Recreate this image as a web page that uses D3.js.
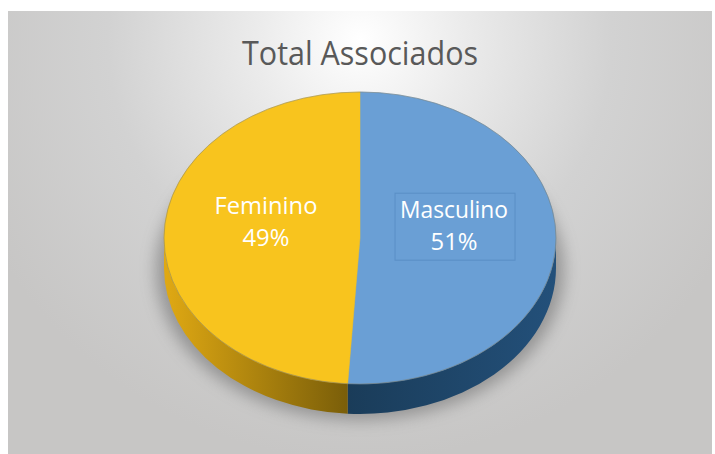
<!DOCTYPE html>
<html>
<head>
<meta charset="utf-8">
<script src="https://cdn.jsdelivr.net/npm/d3@7"></script>
<style>
  body { margin: 0; background: #ffffff; }
  svg { display: block; }
</style>
</head>
<body>
<svg width="715" height="454"></svg>
<script>
/* global d3 */

var categories = [ "Masculino", "Feminino" ];
var values = [ 51, 49 ];
var topColors = [ "#6a9fd5", "#f8c41e" ];
var sideColors = [ [ "#1a3c59", "#23507a" ], [ "#e0a913", "#7a5e09" ] ];

var title = "Total Associados";

var width = 715,
  height = 454;

var cx = 360,
  cy = 238,
  rx = 196,
  ry = 146,
  depth = 30;

var svg = d3.select( "svg" );
var defs = svg.append( "defs" );

// background
var bg = defs.append( "radialGradient" )
  .attr( "id", "bg" )
  .attr( "gradientUnits", "userSpaceOnUse" )
  .attr( "cx", 360 ).attr( "cy", 40 ).attr( "r", 420 );
bg.append( "stop" ).attr( "offset", 0 ).attr( "stop-color", "#ffffff" );
bg.append( "stop" ).attr( "offset", 0.25 ).attr( "stop-color", "#ebebeb" );
bg.append( "stop" ).attr( "offset", 0.6 ).attr( "stop-color", "#d2d2d2" );
bg.append( "stop" ).attr( "offset", 1 ).attr( "stop-color", "#c7c6c5" );

svg.append( "rect" )
  .attr( "x", 8 ).attr( "y", 11 )
  .attr( "width", 704 ).attr( "height", height - 11 )
  .attr( "fill", "url(#bg)" );

// shadow
defs.append( "filter" )
  .attr( "id", "blur" )
  .attr( "x", "-30%" ).attr( "y", "-30%" )
  .attr( "width", "160%" ).attr( "height", "160%" )
  .append( "feGaussianBlur" ).attr( "stdDeviation", 8 );

svg.append( "ellipse" )
  .attr( "cx", cx ).attr( "cy", cy + depth + 2 )
  .attr( "rx", rx + 8 ).attr( "ry", ry + 4 )
  .attr( "fill", "#666666" )
  .attr( "opacity", 0.55 )
  .attr( "filter", "url(#blur)" );

// title
svg.append( "text" )
  .attr( "x", 360 ).attr( "y", 65 )
  .attr( "text-anchor", "middle" )
  .attr( "font-family", "Open Sans, sans-serif" )
  .attr( "font-size", 32 )
  .attr( "textLength", 236 )
  .attr( "lengthAdjust", "spacingAndGlyphs" )
  .attr( "fill", "#595959" )
  .text( title );

var pie = d3.pie().sort( null ).value( d => d );
var arcs = pie( values );

function pt( a, dy ) {
  return [ cx + rx * Math.sin( a ), cy - ry * Math.cos( a ) + ( dy || 0 ) ];
}

function topPath( d ) {
  var p0 = pt( d.startAngle ), p1 = pt( d.endAngle );
  var large = ( d.endAngle - d.startAngle ) > Math.PI ? 1 : 0;
  return "M" + cx + "," + cy + "L" + p0 + "A" + rx + "," + ry + " 0 " + large + " 1 " + p1 + "Z";
}

function wallPath( b0, b1 ) {
  var p0 = pt( b0 ), p1 = pt( b1 ), q0 = pt( b0, depth ), q1 = pt( b1, depth );
  return "M" + p0 + "A" + rx + "," + ry + " 0 0 1 " + p1 +
    "L" + q1 + "A" + rx + "," + ry + " 0 0 0 " + q0 + "Z";
}

// side walls (front half only)
arcs.forEach( ( d, i ) => {
  var b0 = Math.max( d.startAngle, Math.PI / 2 ),
    b1 = Math.min( d.endAngle, 3 * Math.PI / 2 );
  if( b1 <= b0 ) return;

  var x0 = pt( b0 )[ 0 ], x1 = pt( b1 )[ 0 ];
  var g = defs.append( "linearGradient" )
    .attr( "id", "side" + i )
    .attr( "gradientUnits", "userSpaceOnUse" )
    .attr( "x1", Math.min( x0, x1 ) ).attr( "x2", Math.max( x0, x1 ) )
    .attr( "y1", 0 ).attr( "y2", 0 );
  g.append( "stop" ).attr( "offset", 0 ).attr( "stop-color", sideColors[ i ][ 0 ] );
  g.append( "stop" ).attr( "offset", 1 ).attr( "stop-color", sideColors[ i ][ 1 ] );

  svg.append( "path" )
    .attr( "d", wallPath( b0, b1 ) )
    .attr( "fill", "url(#side" + i + ")" );
} );

// top faces
svg.selectAll( "path.top" )
  .data( arcs )
  .enter().append( "path" )
    .attr( "class", "top" )
    .attr( "d", topPath )
    .attr( "fill", ( d, i ) => topColors[ i ] )
    .attr( "stroke", ( d, i ) => topColors[ i ] )
    .attr( "stroke-width", 0.5 );

svg.append( "ellipse" )
  .attr( "cx", cx ).attr( "cy", cy )
  .attr( "rx", rx ).attr( "ry", ry )
  .attr( "fill", "none" )
  .attr( "stroke", "#7a7a6a" )
  .attr( "stroke-opacity", 0.6 )
  .attr( "stroke-width", 0.8 );

// labels
var k = 0.48;

var labels = svg.selectAll( "g.label" )
  .data( arcs )
  .enter().append( "g" )
    .attr( "class", "label" )
    .attr( "transform", d => {
      var m = ( d.startAngle + d.endAngle ) / 2;
      return "translate(" + ( cx + k * rx * Math.sin( m ) ) + "," + ( cy - k * ry * Math.cos( m ) ) + ")";
    } );

labels.filter( ( d, i ) => i === 0 )
  .append( "rect" )
    .attr( "x", -59 ).attr( "y", -47 )
    .attr( "width", 120 ).attr( "height", 67 )
    .attr( "fill", "none" )
    .attr( "stroke", "#4f84bc" )
    .attr( "stroke-opacity", 0.6 );

labels.append( "text" )
  .attr( "y", -22 )
  .attr( "text-anchor", "middle" )
  .attr( "font-family", "Open Sans, sans-serif" )
  .attr( "font-size", 23 )
  .attr( "textLength", ( d, i ) => i === 0 ? 108 : 103 )
  .attr( "lengthAdjust", "spacingAndGlyphs" )
  .attr( "fill", "#ffffff" )
  .text( ( d, i ) => categories[ i ] );

labels.append( "text" )
  .attr( "y", 10 )
  .attr( "text-anchor", "middle" )
  .attr( "font-family", "Open Sans, sans-serif" )
  .attr( "font-size", 23 )
  .attr( "textLength", 47 )
  .attr( "lengthAdjust", "spacingAndGlyphs" )
  .attr( "fill", "#ffffff" )
  .text( d => d.value + "%" );
</script>
</body>
</html>
